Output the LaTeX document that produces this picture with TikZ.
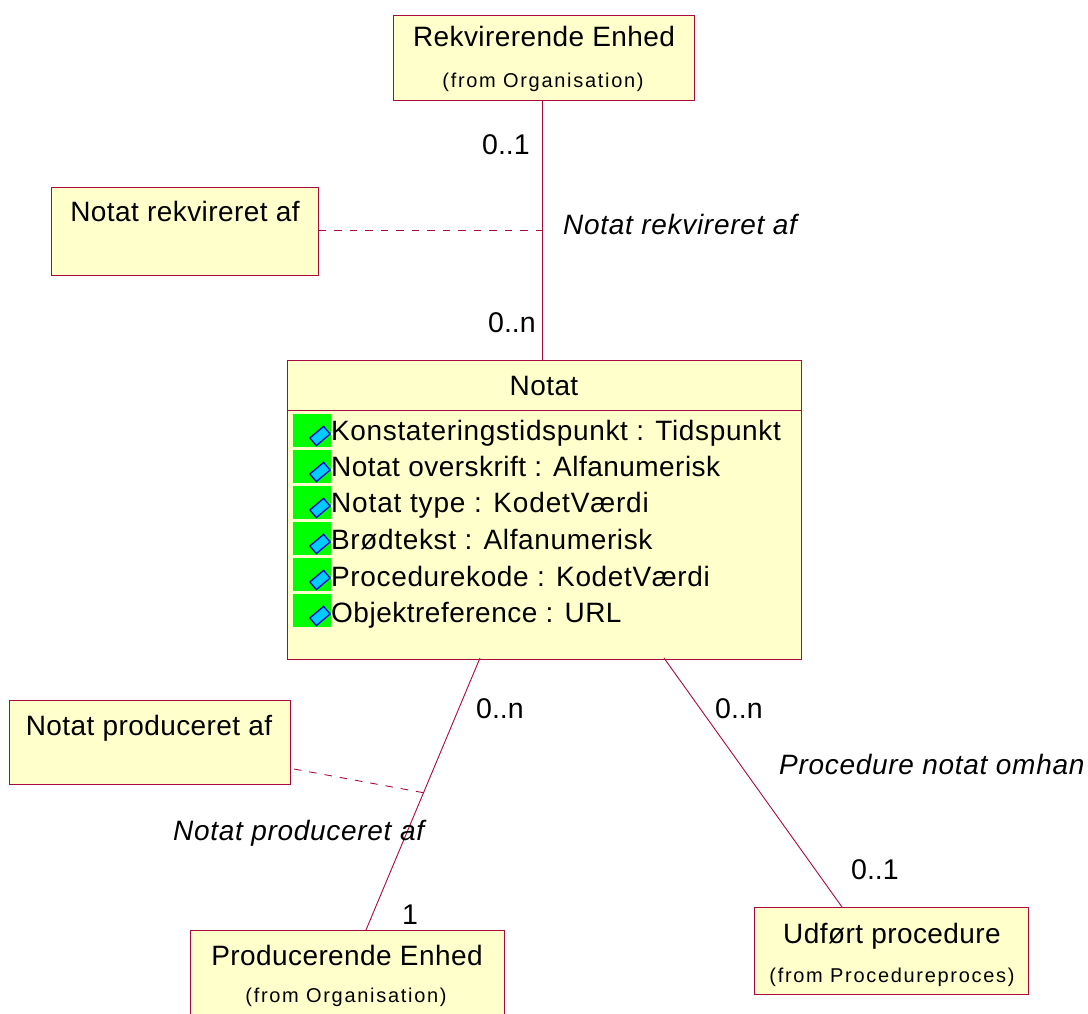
\documentclass[tikz,border=0pt]{standalone}
\usepackage{fontspec}
\setmainfont{Liberation Sans}
\definecolor{fillc}{HTML}{FFFFCC}
\definecolor{linec}{HTML}{A80A40}
\definecolor{icong}{HTML}{00FF00}
\definecolor{iconb}{HTML}{00CCFF}
\definecolor{iconl}{HTML}{0000CC}
\tikzset{
  x=1pt,y=-1pt,
  boxst/.style={draw=linec,fill=fillc,line width=0.9pt,inner sep=0pt},
  conn/.style={draw=linec,line width=0.9pt},
  dashc/.style={draw=linec,line width=0.9pt,dash pattern=on 7.5pt off 8pt},
  txt/.style={inner sep=0pt,anchor=base,font=\fontsize{28}{32}\selectfont\addfontfeature{LetterSpace=1.5}},
  sm/.style={inner sep=0pt,anchor=base,font=\fontsize{20}{24}\selectfont\addfontfeature{LetterSpace=8.5}},
  lab/.style={inner sep=0pt,anchor=base west,font=\fontsize{28.5}{32}\selectfont},
  ital/.style={inner sep=0pt,anchor=base west,font=\fontsize{28}{32}\selectfont\itshape\addfontfeature{LetterSpace=2.5}},
  attr/.style={inner sep=0pt,anchor=base west,font=\fontsize{28}{32}\selectfont\addfontfeature{LetterSpace=2.3}},
}
\newcommand{\attricon}[1]{%
  \fill[icong] (293,#1) rectangle (331,#1+33);
  \filldraw[fill=iconb,draw=iconl,line width=1.3pt,rotate around={40:(320,#1+22)}] (311,#1+17) rectangle (329,#1+27);
}
\begin{document}
\begin{tikzpicture}
\useasboundingbox (0,0) rectangle (1088,1014);
\fill[white] (0,0) rectangle (1088,1014);
\coordinate (rt) at (542.5,100);
\coordinate (nt) at (542.5,360);
\coordinate (pa) at (480,658);
\coordinate (pb) at (366,930);
\coordinate (ua) at (664,658);
\coordinate (ub) at (842,907);
\coordinate (m1) at (542.5,230);
\coordinate (m2) at (425,793);
\node[boxst,minimum width=301pt,minimum height=85pt,anchor=north west] (rek) at (393,15) {};
\node[boxst,minimum width=267pt,minimum height=88pt,anchor=north west] (nra) at (51,187) {};
\node[boxst,minimum width=514pt,minimum height=299pt,anchor=north west] (notat) at (287,360) {};
\node[boxst,minimum width=281pt,minimum height=84pt,anchor=north west] (npa) at (9,700) {};
\node[boxst,minimum width=314pt,minimum height=90pt,anchor=north west] (pe) at (190,930) {};
\node[boxst,minimum width=274pt,minimum height=87pt,anchor=north west] (uf) at (754,907) {};
\draw[conn] (rek.south -| rt) -- (notat.north -| nt);
\draw[conn] (pa) -- (pb);
\draw[conn] (ua) -- (ub);
\draw[dashc] (nra.east |- m1) -- (m1);
\draw[dashc] (294,769) -- (m2);
\draw[conn] (287,410) -- (801,410);
\node[txt] (t1) at (544,47) {Rekvirerende Enhed};
\node[sm] (t2) at (543,88) {(from Organisation)};
\node[txt] (t3) at (185,222) {Notat rekvireret af};
\node[ital] (t4) at (563,235) {Notat rekvireret af};
\node[lab] (t5) at (482,155) {0..1};
\node[lab] (t6) at (488,332) {0..n};
\node[txt] (t7) at (544,395) {Notat};
\attricon{414}
\attricon{450}
\attricon{486}
\attricon{522}
\attricon{558}
\attricon{594}
\node[attr] (a1) at (331,440) {Konstateringstidspunkt : Tidspunkt};
\node[attr] (a2) at (331,476) {\addfontfeature{LetterSpace=1.7}Notat overskrift : Alfanumerisk};
\node[attr] (a3) at (331,512) {\addfontfeature{LetterSpace=3}Notat type : KodetVærdi};
\node[attr] (a4) at (331,549) {Brødtekst : Alfanumerisk};
\node[attr] (a5) at (331,586) {Procedurekode : KodetVærdi};
\node[attr] (a6) at (331,622) {\addfontfeature{LetterSpace=1.8}Objektreference : URL};
\node[lab] (t8) at (476,718) {0..n};
\node[lab] (t9) at (715,718) {0..n};
\node[txt] (t10) at (149,735) {Notat produceret af};
\node[ital] (t11) at (173,840) {Notat produceret af};
\node[ital] (t12) at (779,774) {Procedure notat omhan};
\node[lab] (t13) at (402,924) {1};
\node[lab] (t14) at (851,879) {0..1};
\node[txt] (t15) at (347,965) {Producerende Enhed};
\node[sm] (t16) at (346,1002) {(from Organisation)};
\node[txt] (t17) at (892,943) {Udført procedure};
\node[sm] (t18) at (892,982) {(from Procedureproces)};
\end{tikzpicture}
\end{document}
